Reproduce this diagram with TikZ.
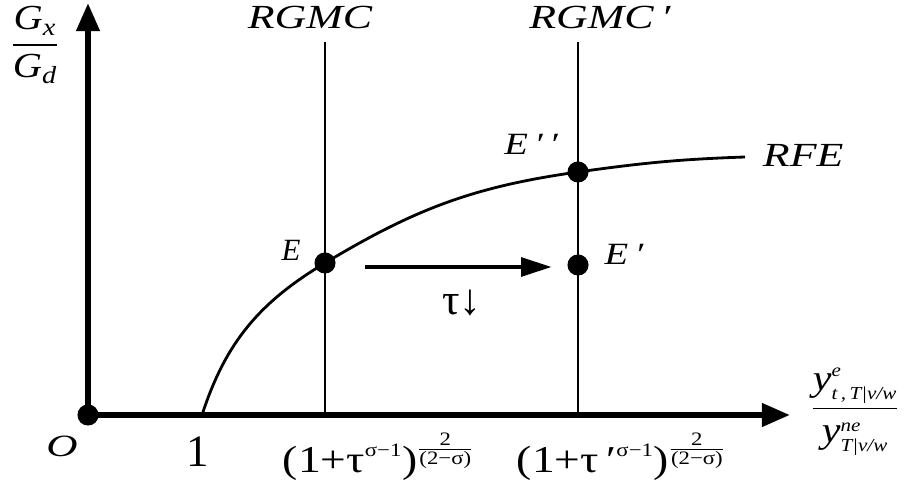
\RequirePackage{fix-cm}
\documentclass[tikz,border=0pt]{standalone}
\usepackage{amsmath}
\usepackage{fontspec}
\setmainfont{Liberation Serif}
\usetikzlibrary{arrows.meta}

\newcommand{\vi}[1]{\textit{#1}}
\newcommand{\tu}[1]{\textup{#1}}
\newcommand{\wide}[2][1.25]{\scalebox{#1}[1]{#2}}

\begin{document}
\begin{tikzpicture}[x=0.025cm, y=0.025cm,
    % --- styles ---
    axis/.style={line width=4.2pt, -{Triangle[length=20pt, width=16pt]}},
    thin_line/.style={line width=2pt},
    shift_arrow/.style={line width=3.5pt, -{Triangle[length=22pt, width=13pt]}},
    dot/.style={circle, fill=black, minimum size=15pt, inner sep=0pt},
    lab/.style={font=\fontsize{22}{24}\selectfont\itshape},
    biglab/.style={font=\fontsize{24}{26}\selectfont\itshape},
    ticklab/.style={font=\fontsize{27}{29}\selectfont, anchor=base west}
]
    \useasboundingbox (0,0) rectangle (906,484);

    % =========================================
    % axes
    % =========================================
    \node[dot] (O) at (88,69) {};
    \coordinate (ytip) at (88,481);
    \coordinate (xtip) at (790,69);
    \draw[axis] (O.center) -- (ytip);
    \draw[axis] (O.center) -- (xtip);

    \node[lab] (labO) at (62,38) {\wide[1.4]{O}};
    \node[font=\fontsize{32}{34}\selectfont] (one) at (198,32) {1};

    % axis titles
    \node[font=\fontsize{25}{27}\selectfont] (ytitle) at (35,439)
        {\wide[1.15]{$\dfrac{\vi{G}_{\scriptstyle\vi{x}}}{\vi{G}_{\scriptstyle\vi{d}}}$}};
    \node[font=\fontsize{26}{28}\selectfont] (xtitle) at (855,72)
        {\wide[1.15]{$\dfrac{\vi{y}^{\scriptscriptstyle\vi{e}}_{\scriptscriptstyle\vi{t\,,\,T|v/w}}}
                {\vi{y}^{\scriptscriptstyle\vi{ne}}_{\scriptscriptstyle\vi{T|v/w}}}$}};

    % =========================================
    % RGMC lines
    % =========================================
    \coordinate (rgA_bot) at (325,69);
    \coordinate (rgA_top) at (325,442);
    \coordinate (rgB_bot) at (578,69);
    \coordinate (rgB_top) at (578,442);
    \draw[thin_line] (rgA_bot) -- (rgA_top);
    \draw[thin_line] (rgB_bot) -- (rgB_top);
    \node[biglab] (rgA) at (310,467) {\wide[1.3]{RGMC}};
    \node[biglab] (rgB) at (600,467) {\wide[1.3]{RGMC\,′}};

    % tick labels under the lines
    \node[ticklab] (tickA) at (278,11)
        {\wide[1.2]{$\tu{(1+τ}^{\scriptscriptstyle\tu{σ−1}}\tu{)}^{\genfrac{}{}{0.5pt}{2}{\tu{2}}{\tu{(2−σ)}}}$}};
    \node[ticklab] (tickB) at (512,11)
        {\wide[1.2]{$\tu{(1+τ\,′}^{\scriptscriptstyle\tu{σ−1}}\tu{)}^{\genfrac{}{}{0.5pt}{2}{\tu{2}}{\tu{(2−σ)}}}$}};

    % =========================================
    % RFE curve
    % =========================================
    \coordinate (c0) at (202,69);
    \coordinate (cE) at (325,221);
    \coordinate (cEpp) at (578,312);
    \coordinate (c1) at (745,327);
    \draw[thin_line] (c0) to[out=72, in=211] (cE)
        to[out=31, in=188] (cEpp) to[out=8, in=182] (c1);
    \node[biglab, anchor=west] (rfe) at (758,329) {\wide[1.3]{RFE}};

    % equilibrium points
    \node[dot] (E) at (cE) {};
    \node[dot] (Epp) at (cEpp) {};
    \node[dot] (Ep) at (578,219) {};
    \node[lab] (labE) at (291,234) {E};
    \node[lab] (labEpp) at (531,340) {\wide{E\,′\,′}};
    \node[lab] (labEp) at (624,230) {\wide{E\,′}};

    % shift arrow
    \coordinate (arr_s) at (365,217);
    \coordinate (arr_e) at (552,217);
    \draw[shift_arrow] (arr_s) -- (arr_e);
    \node[font=\fontsize{31}{33}\selectfont] (tau) at (462,181) {τ↓};

\end{tikzpicture}
\end{document}
